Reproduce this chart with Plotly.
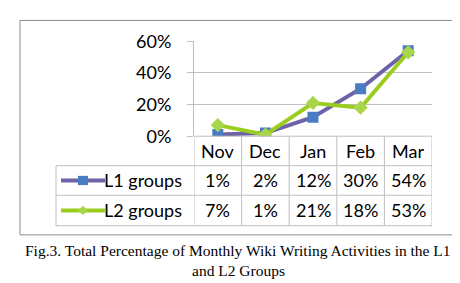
import plotly.graph_objects as go

months = ["Nov", "Dec", "Jan", "Feb", "Mar"]
l1_values = [1, 2, 12, 30, 54]
l2_values = [7, 1, 21, 18, 53]
series_names = ["L1 groups", "L2 groups"]
caption_lines = ["Fig.3. Total Percentage of Monthly Wiki Writing Activities in the L1", "and L2 Groups"]

W, H = 460, 283
def px(x): return x / W
def py(y): return 1 - y / H

L1_LINE = "#6E62A8"
L1_MARK = "#4A7CC4"
L2_LINE = "#9ACD1E"
L2_MARK = "#A8D64A"
GRID = "#BFBFBF"
FONT = "Lato"
FS = 18

fig = go.Figure()
fig.add_trace(go.Scatter(x=months, y=[v / 100 for v in l1_values], mode="lines+markers",
                         line=dict(color=L1_LINE, width=4),
                         marker=dict(symbol="square", size=11, color=L1_MARK), name=series_names[0]))
fig.add_trace(go.Scatter(x=months, y=[v / 100 for v in l2_values], mode="lines+markers",
                         line=dict(color=L2_LINE, width=4),
                         marker=dict(symbol="diamond", size=11, color=L2_MARK), name=series_names[1]))

plot_left, plot_right = 186, 424
y_top, y_zero = 23, 126
row_tops = [126, 158, 190, 223]
table_left = 48

fig.update_layout(
    width=W, height=H, margin=dict(l=0, r=0, t=0, b=0),
    paper_bgcolor="white", plot_bgcolor="white", showlegend=False,
    font=dict(family=FONT, size=FS, color="black"),
    xaxis=dict(domain=[px(plot_left), px(plot_right)], range=[-0.5, 4.5], showgrid=False,
               showline=False, zeroline=False, ticks="", showticklabels=False),
    yaxis=dict(domain=[py(y_zero), py(y_top)], range=[0, 0.6], dtick=0.2, tickformat=".0%",
               showgrid=True, gridcolor=GRID, gridwidth=1, zeroline=False,
               showline=True, linecolor=GRID, ticks="outside", ticklen=6, tickcolor=GRID,
               ticklabelstandoff=12, tickfont=dict(size=FS, family=FONT)),
)

shapes = []
shapes.append(dict(type="rect", xref="paper", yref="paper", x0=px(12), x1=px(447), y0=py(233), y1=py(0.5),
                   line=dict(color="#8C8C8C", width=1)))
shapes.append(dict(type="line", xref="paper", yref="paper", x0=px(plot_left), x1=px(plot_right),
                   y0=py(y_zero), y1=py(y_zero), line=dict(color=GRID, width=1)))
for i in range(len(months) + 1):
    shapes.append(dict(type="line", xref="x", yref="paper", x0=i - 0.5, x1=i - 0.5,
                       y0=py(row_tops[-1]), y1=py(row_tops[0]), line=dict(color=GRID, width=1)))
shapes.append(dict(type="line", xref="paper", yref="paper", x0=px(table_left), x1=px(table_left),
                   y0=py(row_tops[-1]), y1=py(row_tops[1]), line=dict(color=GRID, width=1)))
for yy in row_tops[1:]:
    shapes.append(dict(type="line", xref="paper", yref="paper", x0=px(table_left), x1=px(plot_right),
                       y0=py(yy), y1=py(yy), line=dict(color=GRID, width=1)))

annotations = []
hdr_c = (row_tops[0] + row_tops[1]) / 2
for i, m in enumerate(months):
    annotations.append(dict(xref="x", yref="paper", x=i, y=py(hdr_c), text=m, showarrow=False,
                            xanchor="center", yanchor="middle", font=dict(size=FS, family=FONT)))

series = [(l1_values, L1_LINE, L1_MARK, "square"), (l2_values, L2_LINE, L2_MARK, "diamond")]
for r, (vals, lc, mc, sym) in enumerate(series):
    yc = (row_tops[r + 1] + row_tops[r + 2]) / 2
    shapes.append(dict(type="line", xref="paper", yref="paper", x0=px(53), x1=px(97),
                       y0=py(yc), y1=py(yc), line=dict(color=lc, width=4)))
    if sym == "square":
        shapes.append(dict(type="rect", xref="paper", yref="paper", x0=px(70), x1=px(80),
                           y0=py(yc + 5), y1=py(yc - 5), fillcolor=mc, line=dict(width=0)))
    else:
        cx = 75
        path = (f"M {px(cx - 5)} {py(yc)} L {px(cx)} {py(yc - 5)} L {px(cx + 5)} {py(yc)} "
                f"L {px(cx)} {py(yc + 5)} Z")
        shapes.append(dict(type="path", xref="paper", yref="paper", path=path,
                           fillcolor=mc, line=dict(width=0)))
    annotations.append(dict(xref="paper", yref="paper", x=px(94), y=py(yc), text=series_names[r],
                            showarrow=False, xanchor="left", yanchor="middle",
                            font=dict(size=FS, family=FONT)))
    for i, v in enumerate(vals):
        annotations.append(dict(xref="x", yref="paper", x=i, y=py(yc), text=f"{v}%",
                                showarrow=False, xanchor="center", yanchor="middle",
                                font=dict(size=FS, family=FONT)))

for k, line in enumerate(caption_lines):
    annotations.append(dict(xref="paper", yref="paper", x=0.5, y=py(250 + 22 * k), text=line,
                            showarrow=False, xanchor="center", yanchor="middle", borderpad=0,
                            font=dict(size=15.5, family="Liberation Serif", color="black")))

fig.update_layout(shapes=shapes, annotations=annotations)
fig.write_html("out.html")
